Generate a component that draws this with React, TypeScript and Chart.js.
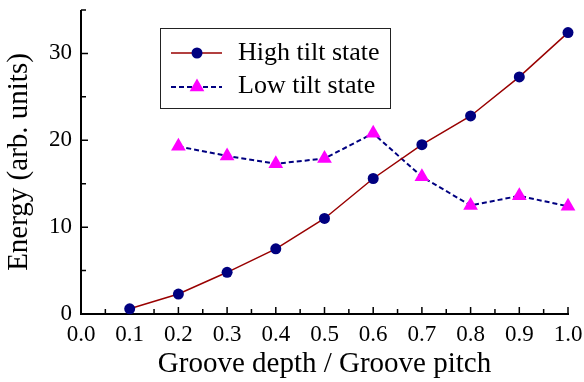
import React, { useEffect, useRef } from "react";
import { Chart, registerables } from "chart.js";

Chart.register(...registerables);

const xValues = [0.1, 0.2, 0.3, 0.4, 0.5, 0.6, 0.7, 0.8, 0.9, 1.0];
const highTilt = [0.6, 2.3, 4.8, 7.5, 11.0, 15.6, 19.5, 22.8, 27.3, 32.4];
const lowX = [0.2, 0.3, 0.4, 0.5, 0.6, 0.7, 0.8, 0.9, 1.0];
const lowTilt = [19.3, 18.2, 17.3, 17.9, 20.8, 15.8, 12.5, 13.6, 12.4];
const seriesNames = ["High tilt state", "Low tilt state"];
const xTitle = "Groove depth / Groove pitch";
const yTitle = "Energy (arb. units)";

const FONT = "'Liberation Serif', 'Times New Roman', serif";
const RED = "#990000";
const NAVY = "#000080";
const MAGENTA = "#ff00ff";

const axesPlugin = {
  id: "axesPlugin",
  beforeDatasetsDraw(chart: any) {
    const { ctx, chartArea } = chart;
    const xs = chart.scales.x;
    const ys = chart.scales.y;
    ctx.save();
    ctx.strokeStyle = "#000";
    ctx.lineWidth = 2;
    ctx.beginPath();
    ctx.moveTo(chartArea.left, chartArea.top);
    ctx.lineTo(chartArea.left, chartArea.bottom);
    ctx.lineTo(chartArea.right + 1, chartArea.bottom);
    ctx.stroke();
    ctx.lineWidth = 1.5;
    ctx.beginPath();
    for (let i = 1; i <= 20; i++) {
      const v = i * 0.05;
      const px = xs.getPixelForValue(v);
      const len = i % 2 === 0 ? 7 : 5;
      ctx.moveTo(px, chartArea.bottom);
      ctx.lineTo(px, chartArea.bottom - len);
    }
    for (let i = 1; i <= 7; i++) {
      const v = i * 5;
      const py = ys.getPixelForValue(v);
      const len = i % 2 === 0 ? 7 : 5;
      ctx.moveTo(chartArea.left, py);
      ctx.lineTo(chartArea.left + len, py);
    }
    ctx.stroke();
    ctx.restore();
  },
};

const legendPlugin = {
  id: "legendBox",
  afterDraw(chart: any) {
    const { ctx } = chart;
    ctx.save();
    ctx.strokeStyle = "#222";
    ctx.lineWidth = 1;
    ctx.strokeRect(160.5, 28.5, 230, 80);
    ctx.font = `26px ${FONT}`;
    ctx.textBaseline = "middle";
    ctx.fillStyle = "#000";
    // entry 1
    const y1 = 53;
    ctx.strokeStyle = RED;
    ctx.lineWidth = 1.5;
    ctx.beginPath();
    ctx.moveTo(171, y1);
    ctx.lineTo(222, y1);
    ctx.stroke();
    ctx.fillStyle = NAVY;
    ctx.beginPath();
    ctx.arc(197, y1, 5.5, 0, Math.PI * 2);
    ctx.fill();
    ctx.fillStyle = "#000";
    ctx.fillText(seriesNames[0], 238, y1);
    // entry 2
    const y2 = 87;
    ctx.strokeStyle = NAVY;
    ctx.lineWidth = 2;
    ctx.setLineDash([5, 3]);
    ctx.beginPath();
    ctx.moveTo(171, y2);
    ctx.lineTo(222, y2);
    ctx.stroke();
    ctx.setLineDash([]);
    ctx.fillStyle = MAGENTA;
    const r = 8.5;
    ctx.beginPath();
    ctx.moveTo(197, y2 - r);
    ctx.lineTo(197 + r * 0.866, y2 + r * 0.5);
    ctx.lineTo(197 - r * 0.866, y2 + r * 0.5);
    ctx.closePath();
    ctx.fill();
    ctx.fillStyle = "#000";
    ctx.fillText(seriesNames[1], 238, y2 - 1);
    ctx.restore();
  },
};

export default function App() {
  const ref = useRef<HTMLCanvasElement | null>(null);
  useEffect(() => {
    document.body.style.margin = "0";
    const chart = new Chart(ref.current as HTMLCanvasElement, {
      type: "line",
      data: {
        datasets: [
          {
            label: seriesNames[0],
            data: xValues.map((x, i) => ({ x, y: highTilt[i] })),
            borderColor: RED,
            borderWidth: 1.5,
            pointStyle: "circle",
            pointRadius: 5.5,
            pointBackgroundColor: NAVY,
            pointBorderWidth: 0,
            pointBorderColor: NAVY,
            tension: 0,
            clip: false as any,
          },
          {
            label: seriesNames[1],
            data: lowX.map((x, i) => ({ x, y: lowTilt[i] })),
            borderColor: NAVY,
            borderWidth: 2,
            borderDash: [5, 3],
            pointStyle: "triangle",
            pointRadius: 8.5,
            pointBackgroundColor: MAGENTA,
            pointBorderWidth: 0,
            pointBorderColor: MAGENTA,
            tension: 0,
            clip: false as any,
          },
        ],
      },
      options: {
        animation: false,
        responsive: true,
        maintainAspectRatio: false,
        layout: { padding: { top: 10, right: 16, left: 0, bottom: 0 } },
        plugins: { legend: { display: false }, tooltip: { enabled: false } },
        scales: {
          x: {
            type: "linear",
            min: 0,
            max: 1,
            grid: { display: false, drawTicks: false },
            border: { display: false },
            afterFit(s: any) {
              s.height = 68;
              s.paddingLeft = 0;
              s.paddingRight = 0;
            },
            ticks: {
              stepSize: 0.05,
              autoSkip: false,
              maxRotation: 0,
              padding: 7,
              color: "#000",
              font: { family: FONT, size: 23 },
              callback: (v: any) => {
                const n = Math.round(Number(v) * 100);
                return n % 10 === 0 ? (n / 100).toFixed(1) : "";
              },
            },
            title: {
              display: true,
              text: xTitle,
              color: "#000",
              font: { family: FONT, size: 29 },
              padding: { top: 0, bottom: 0 },
            },
          },
          y: {
            type: "linear",
            min: 0,
            max: 35,
            grid: { display: false, drawTicks: false },
            border: { display: false },
            afterFit(s: any) {
              s.width = 81;
              s.paddingTop = 0;
              s.paddingBottom = 0;
            },
            ticks: {
              stepSize: 5,
              autoSkip: false,
              padding: 9,
              color: "#000",
              font: { family: FONT, size: 23 },
              callback: (v: any) => {
                const n = Math.round(Number(v));
                return n % 10 === 0 ? String(n) : "";
              },
            },
            title: {
              display: true,
              text: yTitle,
              color: "#000",
              font: { family: FONT, size: 29 },
              padding: { top: 2, bottom: 0 },
            },
          },
        },
      },
      plugins: [axesPlugin, legendPlugin],
    });
    return () => chart.destroy();
  }, []);
  return (
    <div style={{ position: "fixed", left: 0, top: 0, width: 584, height: 382 }}>
      <canvas ref={ref} />
    </div>
  );
}
